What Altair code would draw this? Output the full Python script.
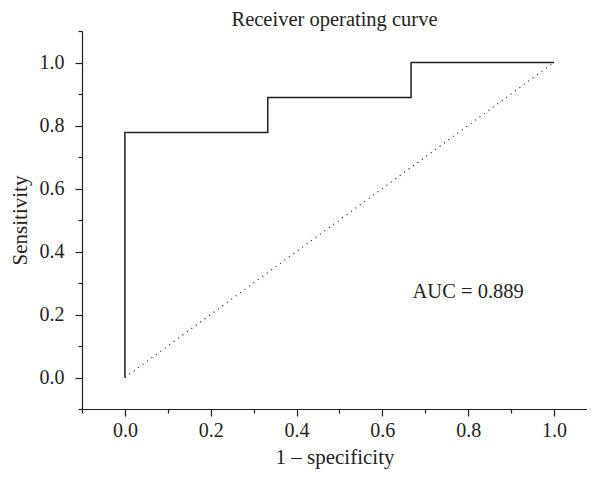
import altair as alt
import pandas as pd

# ROC step curve points (1 - specificity, sensitivity)
fpr = [0.0, 0.0, 0.333, 0.333, 0.667, 0.667, 1.0]
tpr = [0.0, 0.778, 0.778, 0.889, 0.889, 1.0, 1.0]
diag_x = [0.0, 1.0]
diag_y = [0.0, 1.0]
auc_label = "AUC = 0.889"
auc_pos = (0.8, 0.27)
tick_vals = [round(-0.1 + 0.1 * i, 1) for i in range(13)]

roc = pd.DataFrame({"x": fpr, "y": tpr, "o": list(range(len(fpr)))})
diag = pd.DataFrame({"x": diag_x, "y": diag_y})
txt = pd.DataFrame({"x": [auc_pos[0]], "y": [auc_pos[1]], "t": [auc_label]})

FONT = "Liberation Serif"
INK = "#231f20"
odd = "round(datum.value*10) % 2 != 0"

xscale = alt.Scale(domain=[-0.1, 1.077], nice=False, zero=False)
yscale = alt.Scale(domain=[-0.1, 1.1], nice=False, zero=False)

axis_common = dict(
    values=tick_vals,
    grid=False,
    domainColor=INK,
    tickColor=INK,
    domainWidth=1.2,
    tickWidth=1.2,
    tickSize=7,
    tickDash={"condition": {"test": odd, "value": [4, 20]}, "value": [20, 0]},
    labelExpr=f"{odd} ? '' : format(datum.value, '.1f')",
    labelOverlap=False,
    labelFont=FONT,
    labelFontSize=20,
    labelColor=INK,
    titleFont=FONT,
    titleFontSize=21,
    titleFontWeight="normal",
    titleColor=INK,
)

xaxis = alt.Axis(title="1 – specificity", labelPadding=4, titlePadding=6, **axis_common)
yaxis = alt.Axis(title="Sensitivity", labelPadding=11, titlePadding=9, **axis_common)

line = alt.Chart(roc).mark_line(color=INK, strokeWidth=1.5).encode(
    x=alt.X("x:Q", scale=xscale, axis=xaxis),
    y=alt.Y("y:Q", scale=yscale, axis=yaxis),
    order="o:Q",
)

dots = alt.Chart(diag).mark_line(color=INK, strokeWidth=1.2, strokeDash=[1, 4.5]).encode(
    x=alt.X("x:Q", scale=xscale, axis=xaxis),
    y=alt.Y("y:Q", scale=yscale, axis=yaxis),
)

label = alt.Chart(txt).mark_text(font=FONT, fontSize=20.5, color=INK, align="center", baseline="middle").encode(
    x=alt.X("x:Q", scale=xscale, axis=xaxis),
    y=alt.Y("y:Q", scale=yscale, axis=yaxis),
    text="t:N",
)

chart = alt.layer(line, dots, label).properties(
    width=505,
    height=378,
    title=alt.Title("Receiver operating curve", font=FONT, fontSize=20.5, fontWeight="normal", color=INK, offset=3, dy=12),
    autosize=alt.AutoSizeParams(type="none"),
    padding={"left": 74, "top": 23, "right": 0, "bottom": 60},
).configure_view(stroke=None)

chart.save("out.html", embed_options={"renderer": "svg", "actions": False})
